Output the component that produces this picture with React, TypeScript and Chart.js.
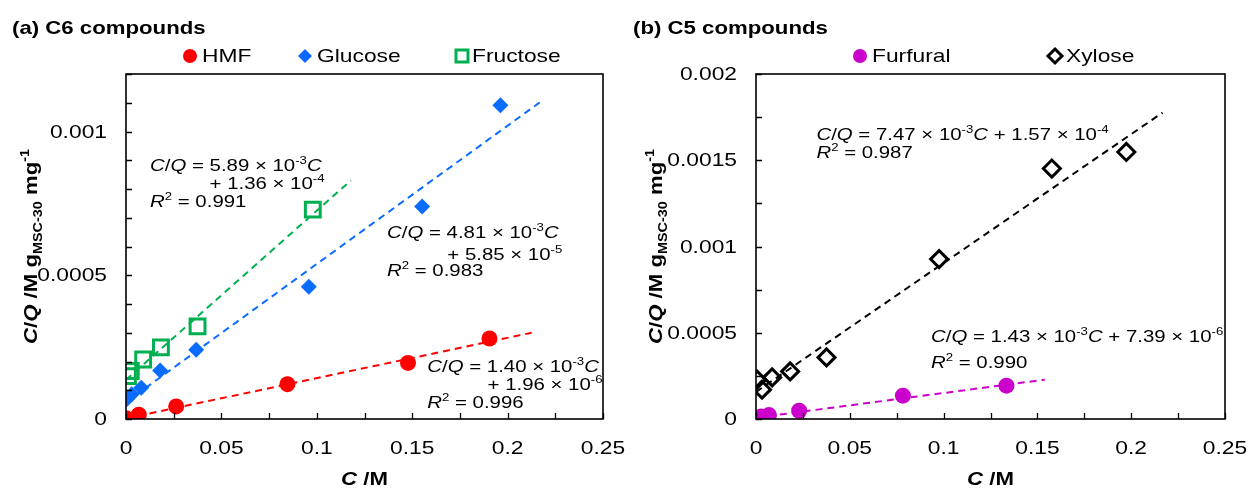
import React, { useEffect, useRef } from 'react';
import { Chart, registerables } from 'chart.js';

Chart.register(...registerables);

// ---------------- data ----------------
// (a) C6 compounds
const hmfC = [0, 0.0067, 0.0263, 0.0846, 0.1478, 0.1905];
const hmfCQ = [0.000003, 0.000015, 0.0000437, 0.000121, 0.000195, 0.00028];
const glucoseC = [0.0004, 0.003, 0.008, 0.0179, 0.0368, 0.0958, 0.1552, 0.1962];
const glucoseCQ = [0.000069, 0.000086, 0.000109, 0.000169, 0.000241, 0.00046, 0.000739, 0.001091];
const fructoseC = [0.001, 0.0025, 0.009, 0.0183, 0.0375, 0.0979];
const fructoseCQ = [0.000149, 0.000167, 0.000207, 0.000249, 0.000322, 0.000728];
// fitted lines (end points)
const hmfFitC = [0, 0.2126];
const hmfFitCQ = [0.000002, 0.0003];
const glucoseFitC = [0, 0.2168];
const glucoseFitCQ = [0.0000585, 0.001101];
const fructoseFitC = [0, 0.1179];
const fructoseFitCQ = [0.000136, 0.00083];

// (b) C5 compounds
const furfuralC = [0, 0.0026, 0.0069, 0.023, 0.0783, 0.1335];
const furfuralCQ = [0.000006, 0.000014, 0.000023, 0.000048, 0.000135, 0.000193];
const xyloseC = [0.0006, 0.0032, 0.0086, 0.0182, 0.0376, 0.0976, 0.1577, 0.1974];
const xyloseCQ = [0.000228, 0.00017, 0.000241, 0.000276, 0.000357, 0.000927, 0.001452, 0.001548];
const furfuralFitC = [0, 0.1539];
const furfuralFitCQ = [0.0000074, 0.000228];
const xyloseFitC = [0, 0.2167];
const xyloseFitCQ = [0.000157, 0.001776];

// axes
const xMax = 0.25;
const xStep = 0.025;
const xLabelStep = 0.05;
const yMaxA = 0.0012;
const yStepA = 0.0001;
const yMaxB = 0.002;
const yStepB = 0.00025;
const yLabelStep = 0.0005;

// ---------------- styling ----------------
const FONT = '"Liberation Sans", Arial, Helvetica, sans-serif';
const SX = 1.2; // horizontal stretch of the text in the reference
const RED = '#ff0000';
const BLUE = '#0a6cff';
const GREEN = '#00b050';
const MAGENTA = '#cc00cc';
const BLACK = '#000000';

type Seg = { t: string; it?: boolean; sup?: boolean; sub?: boolean };

function drawRich(
  ctx: CanvasRenderingContext2D,
  segs: Seg[],
  x: number,
  y: number,
  size: number,
  bold: boolean,
  align: 'left' | 'center' = 'left'
) {
  const fontFor = (s: Seg) =>
    `${s.it ? 'italic ' : ''}${bold ? 'bold ' : ''}${s.sup || s.sub ? Math.round(size * 0.65) : size}px ${FONT}`;
  const widths = segs.map((s) => {
    ctx.font = fontFor(s);
    return ctx.measureText(s.t).width;
  });
  const total = widths.reduce((a, b) => a + b, 0) * SX;
  ctx.save();
  ctx.translate(align === 'center' ? x - total / 2 : x, y);
  ctx.scale(SX, 1);
  ctx.textAlign = 'left';
  ctx.textBaseline = 'alphabetic';
  let cx = 0;
  segs.forEach((s, i) => {
    ctx.font = fontFor(s);
    const dy = s.sup ? -size * 0.42 : s.sub ? size * 0.25 : 0;
    ctx.fillText(s.t, cx, dy);
    cx += widths[i];
  });
  ctx.restore();
}

function drawText(
  ctx: CanvasRenderingContext2D,
  text: string,
  x: number,
  y: number,
  font: string,
  align: CanvasTextAlign,
  baseline: CanvasTextBaseline
) {
  ctx.save();
  ctx.translate(x, y);
  ctx.scale(SX, 1);
  ctx.font = font;
  ctx.textAlign = align;
  ctx.textBaseline = baseline;
  ctx.fillText(text, 0, 0);
  ctx.restore();
}

type LegendItem = { label: string; shape: 'circle' | 'diamond' | 'square' | 'diamondOpen'; color: string; mx: number; tx: number };
type Note = { x: number; y: number; segs: Seg[] };

interface PanelCfg {
  title: string;
  titleX: number;
  yTitleX: number;
  yAxisWidth: number;
  rightPad: number;
  yMax: number;
  yStep: number;
  legend: LegendItem[];
  notes: Note[];
  datasets: any[];
}

const eqHead = (slope: string): Seg[] => [
  { t: 'C', it: true },
  { t: '/' },
  { t: 'Q', it: true },
  { t: ` = ${slope} × 10` },
  { t: '-3', sup: true },
  { t: 'C', it: true },
];
const r2 = (v: string): Seg[] => [{ t: 'R', it: true }, { t: '2', sup: true }, { t: ` = ${v}` }];

const pts = (xs: number[], ys: number[]) => xs.map((x, i) => ({ x, y: ys[i] }));

const scatterDs = (label: string, xs: number[], ys: number[], style: string, color: string, radius: number, hollow: boolean) => ({
  label,
  data: pts(xs, ys),
  showLine: false,
  pointStyle: style,
  pointRadius: radius,
  pointHoverRadius: radius,
  pointBackgroundColor: hollow ? 'rgba(0,0,0,0)' : color,
  pointBorderColor: color,
  pointBorderWidth: hollow ? 3 : 0,
  borderColor: color,
  backgroundColor: color,
});

const fitDs = (label: string, xs: number[], ys: number[], color: string) => ({
  label,
  data: pts(xs, ys),
  showLine: true,
  borderColor: color,
  borderWidth: 2,
  borderDash: [7, 5],
  pointRadius: 0,
  pointHoverRadius: 0,
  fill: false,
});

const panelA: PanelCfg = {
  title: '(a) C6 compounds',
  titleX: 12,
  yTitleX: 30,
  yAxisWidth: 126,
  rightPad: 22,
  yMax: yMaxA,
  yStep: yStepA,
  legend: [
    { label: 'HMF', shape: 'circle', color: RED, mx: 190, tx: 202 },
    { label: 'Glucose', shape: 'diamond', color: BLUE, mx: 305, tx: 317 },
    { label: 'Fructose', shape: 'square', color: GREEN, mx: 462, tx: 472 },
  ],
  notes: [
    { x: 0.0126, y: 0.000883, segs: eqHead('5.89') },
    { x: 0.0438, y: 0.000822, segs: [{ t: '+ 1.36 × 10' }, { t: '-4', sup: true }] },
    { x: 0.0126, y: 0.000759, segs: r2('0.991') },
    { x: 0.1368, y: 0.000649, segs: eqHead('4.81') },
    { x: 0.1684, y: 0.000575, segs: [{ t: '+ 5.85 × 10' }, { t: '-5', sup: true }] },
    { x: 0.1368, y: 0.000517, segs: r2('0.983') },
    { x: 0.1579, y: 0.000184, segs: eqHead('1.40') },
    { x: 0.1895, y: 0.000121, segs: [{ t: '+ 1.96 × 10' }, { t: '-6', sup: true }] },
    { x: 0.1579, y: 0.0000575, segs: r2('0.996') },
  ],
  datasets: [
    scatterDs('HMF', hmfC, hmfCQ, 'circle', RED, 8, false),
    scatterDs('Glucose', glucoseC, glucoseCQ, 'rectRot', BLUE, 8, false),
    scatterDs('Fructose', fructoseC, fructoseCQ, 'rect', GREEN, 10.5, true),
    fitDs('HMF fit', hmfFitC, hmfFitCQ, RED),
    fitDs('Glucose fit', glucoseFitC, glucoseFitCQ, BLUE),
    fitDs('Fructose fit', fructoseFitC, fructoseFitCQ, GREEN),
  ],
};

const panelB: PanelCfg = {
  title: '(b) C5 compounds',
  titleX: 8,
  yTitleX: 30,
  yAxisWidth: 131,
  rightPad: 25,
  yMax: yMaxB,
  yStep: yStepB,
  legend: [
    { label: 'Furfural', shape: 'circle', color: MAGENTA, mx: 235, tx: 247 },
    { label: 'Xylose', shape: 'diamondOpen', color: BLACK, mx: 430, tx: 441 },
  ],
  notes: [
    {
      x: 0.0322,
      y: 0.001651,
      segs: [...eqHead('7.47'), { t: ' + 1.57 × 10' }, { t: '-4', sup: true }],
    },
    { x: 0.0322, y: 0.001545, segs: r2('0.987') },
    {
      x: 0.0933,
      y: 0.000479,
      segs: [...eqHead('1.43'), { t: ' + 7.39 × 10' }, { t: '-6', sup: true }],
    },
    { x: 0.0933, y: 0.000328, segs: r2('0.990') },
  ],
  datasets: [
    scatterDs('Furfural', furfuralC, furfuralCQ, 'circle', MAGENTA, 8, false),
    scatterDs('Xylose', xyloseC, xyloseCQ, 'rectRot', BLACK, 8.5, true),
    fitDs('Furfural fit', furfuralFitC, furfuralFitCQ, MAGENTA),
    fitDs('Xylose fit', xyloseFitC, xyloseFitCQ, BLACK),
  ],
};

const labelFor = (v: number, step: number) => {
  const k = v / step;
  return Math.abs(k - Math.round(k)) < 1e-6 ? String(+v.toFixed(5)) : '';
};

function drawMarker(ctx: CanvasRenderingContext2D, it: LegendItem, y: number) {
  const x = it.mx;
  ctx.save();
  ctx.fillStyle = it.color;
  ctx.strokeStyle = it.color;
  if (it.shape === 'circle') {
    ctx.beginPath();
    ctx.arc(x, y, 7, 0, Math.PI * 2);
    ctx.fill();
  } else if (it.shape === 'diamond') {
    const r = 7;
    ctx.beginPath();
    ctx.moveTo(x, y - r);
    ctx.lineTo(x + r, y);
    ctx.lineTo(x, y + r);
    ctx.lineTo(x - r, y);
    ctx.closePath();
    ctx.fill();
  } else if (it.shape === 'square') {
    ctx.lineWidth = 3;
    ctx.strokeRect(x - 6, y - 6, 12, 12);
  } else {
    const r = 7;
    ctx.lineWidth = 3;
    ctx.beginPath();
    ctx.moveTo(x, y - r);
    ctx.lineTo(x + r, y);
    ctx.lineTo(x, y + r);
    ctx.lineTo(x - r, y);
    ctx.closePath();
    ctx.stroke();
  }
  ctx.restore();
}

function makeDecor(cfg: PanelCfg) {
  return {
    id: 'decor',
    afterDraw(chart: any) {
      const ctx: CanvasRenderingContext2D = chart.ctx;
      const { left, right, top, bottom } = chart.chartArea;
      const xs = chart.scales.x;
      const ys = chart.scales.y;
      ctx.save();
      ctx.fillStyle = '#000';
      ctx.strokeStyle = '#000';
      // frame
      ctx.lineWidth = 1.6;
      ctx.strokeRect(left, top, right - left, bottom - top);
      // inward ticks
      ctx.lineWidth = 1.3;
      ctx.beginPath();
      xs.ticks.forEach((t: any) => {
        const px = Math.round(xs.getPixelForValue(t.value)) + 0.5;
        ctx.moveTo(px, bottom);
        ctx.lineTo(px, bottom - 6);
      });
      ys.ticks.forEach((t: any) => {
        const py = Math.round(ys.getPixelForValue(t.value)) + 0.5;
        ctx.moveTo(left, py);
        ctx.lineTo(left + 6, py);
      });
      ctx.stroke();
      // tick labels
      const tickFont = `19px ${FONT}`;
      xs.ticks.forEach((t: any) => {
        const s = labelFor(t.value, xLabelStep);
        if (s) drawText(ctx, s, xs.getPixelForValue(t.value), 449, tickFont, 'center', 'middle');
      });
      ys.ticks.forEach((t: any) => {
        const s = labelFor(t.value, yLabelStep);
        if (s) drawText(ctx, s, left - 19, ys.getPixelForValue(t.value) + 1, tickFont, 'right', 'middle');
      });
      // panel title
      drawText(ctx, cfg.title, cfg.titleX, 34, `bold 18.5px ${FONT}`, 'left', 'alphabetic');
      // legend
      cfg.legend.forEach((it) => {
        drawMarker(ctx, it, 56);
        ctx.fillStyle = '#000';
        drawText(ctx, it.label, it.tx, 57, `19px ${FONT}`, 'left', 'middle');
      });
      ctx.fillStyle = '#000';
      // x axis title
      drawRich(ctx, [{ t: 'C', it: true }, { t: ' /M' }], (left + right) / 2, 485, 18.5, true, 'center');
      // y axis title
      ctx.save();
      ctx.translate(cfg.yTitleX, (top + bottom) / 2);
      ctx.rotate(-Math.PI / 2);
      drawRich(
        ctx,
        [
          { t: 'C', it: true },
          { t: '/' },
          { t: 'Q', it: true },
          { t: ' /M g' },
          { t: 'MSC-30', sub: true },
          { t: ' mg' },
          { t: '-1', sup: true },
        ],
        0,
        7,
        18.5,
        true,
        'center'
      );
      ctx.restore();
      // equations
      cfg.notes.forEach((n) => {
        const px = xs.getPixelForValue(n.x);
        const py = ys.getPixelForValue(n.y);
        ctx.fillStyle = '#000';
        drawRich(ctx, n.segs, px, py + 6, 17, false, 'left');
      });
      ctx.restore();
    },
  };
}

function Panel({ cfg, left }: { cfg: PanelCfg; left: number }) {
  const ref = useRef<HTMLCanvasElement>(null);
  useEffect(() => {
    if (!ref.current) return;
    const chart = new Chart(ref.current, {
      type: 'scatter',
      data: { datasets: cfg.datasets },
      options: {
        responsive: false,
        animation: false,
        events: [],
        layout: { padding: { left: 0, top: 74, right: cfg.rightPad, bottom: 0 }, autoPadding: false } as any,
        plugins: { legend: { display: false }, tooltip: { enabled: false }, title: { display: false } },
        scales: {
          x: {
            type: 'linear',
            min: 0,
            max: xMax,
            grid: { display: false, drawTicks: false },
            border: { display: false },
            ticks: { display: false, stepSize: xStep, autoSkip: false, maxTicksLimit: 100 },
            afterFit: (s: any) => {
              s.height = 72;
            },
          },
          y: {
            type: 'linear',
            min: 0,
            max: cfg.yMax,
            grid: { display: false, drawTicks: false },
            border: { display: false },
            ticks: { display: false, stepSize: cfg.yStep, autoSkip: false, maxTicksLimit: 100 },
            afterFit: (s: any) => {
              s.width = cfg.yAxisWidth;
            },
          },
        },
      } as any,
      plugins: [makeDecor(cfg)],
    });
    return () => chart.destroy();
  }, [cfg]);
  return (
    <canvas
      ref={ref}
      width={625}
      height={491}
      style={{ position: 'absolute', left, top: 0, width: 625, height: 491, display: 'block' }}
    />
  );
}

export default function App() {
  return (
    <div style={{ position: 'absolute', left: 0, top: 0, width: 1250, height: 491, background: '#fff', overflow: 'hidden' }}>
      <Panel cfg={panelA} left={0} />
      <Panel cfg={panelB} left={625} />
    </div>
  );
}
